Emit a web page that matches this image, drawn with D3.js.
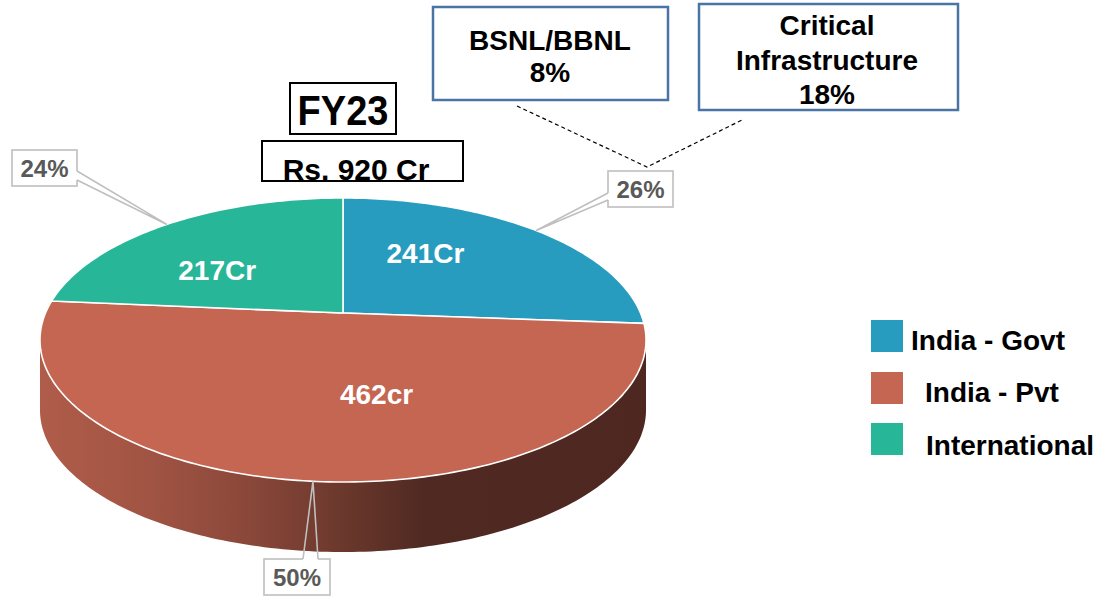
<!DOCTYPE html>
<html>
<head>
<meta charset="utf-8">
<script src="https://cdn.jsdelivr.net/npm/d3@7"></script>
<style>
  body { margin: 0; background: #fff; }
  text { font-family: "Liberation Sans", Arial, sans-serif; font-weight: bold; }
</style>
</head>
<body>
<div id="chart"></div>
<script>
// data
var segments = ["India - Govt", "India - Pvt", "International"];
var amounts = [241, 462, 217];
var amountLabels = ["241Cr", "462cr", "217Cr"];
var shareLabels = ["26%", "50%", "24%"];
var sliceColors = ["#279cbe", "#c46652", "#28b698"];
var govtSplitLabels = [["BSNL/BBNL", "8%"], ["Critical", "Infrastructure", "18%"]];
var chartTitle = "FY23";
var chartTotal = "Rs. 920 Cr";

var width = 1104, height = 600;

var svg = d3.select("#chart").append("svg")
    .attr("width", width)
    .attr("height", height);

// perspective of the tilted disc
var pie3d = {cx: 343, cy: 313, a: 297.5, b: 136.9, k: 0.19, depth: 70};
var xs = d3.scaleLinear().domain([-1, 1]).range([pie3d.cx - pie3d.a, pie3d.cx + pie3d.a]);
var ys = d3.scaleLinear().domain([-1, 1]).range([pie3d.cy + pie3d.b, pie3d.cy - pie3d.b]);

function proj(r, ang, dz) {
    var u = r * Math.sin(ang), v = r * Math.cos(ang), d = 1 + pie3d.k * v;
    return [xs(u / d), ys(v / d) + (dz || 0)];
}

function arcPoints(a0, a1, dz) {
    var n = Math.max(2, Math.ceil(Math.abs(a1 - a0) / (Math.PI / 180)));
    return d3.range(n + 1).map(function(i) { return proj(1, a0 + (a1 - a0) * i / n, dz); });
}

var arcs = d3.pie().sort(null).value(function(d) { return d; })(amounts);
var line = d3.line();

// side wall (only the front half is visible)
var sideR = Math.acos(-pie3d.k), sideL = 2 * Math.PI - sideR;
var defs = svg.append("defs");

arcs.forEach(function(a, i) {
    var s = Math.max(a.startAngle, sideR), e = Math.min(a.endAngle, sideL);
    if (e <= s) return;
    var c = d3.color(sliceColors[i]);
    var grad = defs.append("linearGradient")
        .attr("id", "side" + i)
        .attr("gradientUnits", "userSpaceOnUse")
        .attr("x1", xs(-1.02)).attr("x2", xs(1.02)).attr("y1", 0).attr("y2", 0);
    [[0, 0.3], [0.18, 0.55], [0.35, 1.0], [0.48, 1.6], [0.63, 2.5], [1, 2.6]].forEach(function(st) {
        grad.append("stop").attr("offset", st[0]).attr("stop-color", c.darker(st[1]).formatHex());
    });
    var pts = arcPoints(s, e, 0).concat(arcPoints(e, s, pie3d.depth));
    svg.append("path")
        .attr("d", line(pts) + "Z")
        .style("fill", "url(#side" + i + ")");
});

// top face
svg.selectAll(".slice")
    .data(arcs)
    .enter().append("path")
    .attr("class", "slice")
    .attr("d", function(d) {
        return line([proj(0, 0)].concat(arcPoints(d.startAngle, d.endAngle, 0))) + "Z";
    })
    .style("fill", function(d, i) { return sliceColors[i]; })
    .style("stroke", "#fff")
    .style("stroke-width", 1.6)
    .style("stroke-linejoin", "round");

// value labels inside slices
var labelNudge = [[-20, -6], [47, 16], [-32, 14]];
svg.selectAll(".amt")
    .data(arcs)
    .enter().append("text")
    .attr("class", "amt")
    .attr("x", function(d, i) { return proj(0.5, (d.startAngle + d.endAngle) / 2)[0] + labelNudge[i][0]; })
    .attr("y", function(d, i) { return proj(0.5, (d.startAngle + d.endAngle) / 2)[1] + labelNudge[i][1]; })
    .attr("text-anchor", "middle")
    .style("font-size", "28px")
    .style("fill", "#fff")
    .text(function(d, i) { return amountLabels[i]; });

// percentage callouts
var shareBoxes = [
    {x: 608, y: 171, w: 65, h: 36, side: "left", b0: 193, b1: 200},
    {x: 264, y: 559, w: 66, h: 36, side: "top", b0: 303, b1: 318},
    {x: 12, y: 150, w: 65, h: 36, side: "right", b0: 171, b1: 180}
];
var callouts = svg.append("g");
arcs.forEach(function(a, i) {
    var bx = shareBoxes[i];
    var tip = proj(1, (a.startAngle + a.endAngle) / 2);
    var p0, p1;
    if (bx.side == "left") { p0 = [bx.x, bx.b0]; p1 = [bx.x, bx.b1]; }
    else if (bx.side == "right") { p0 = [bx.x + bx.w, bx.b0]; p1 = [bx.x + bx.w, bx.b1]; }
    else { p0 = [bx.b0, bx.y]; p1 = [bx.b1, bx.y]; }
    callouts.append("rect")
        .attr("x", bx.x).attr("y", bx.y).attr("width", bx.w).attr("height", bx.h)
        .style("fill", "#fff").style("stroke", "#bfbfbf").style("stroke-width", 1.6);
    callouts.append("line")
        .attr("x1", p0[0]).attr("y1", p0[1]).attr("x2", p1[0]).attr("y2", p1[1])
        .style("stroke", "#fff").style("stroke-width", 2.5);
    callouts.append("path")
        .attr("d", line([p0, tip, p1]))
        .style("fill", "none").style("stroke", "#bfbfbf").style("stroke-width", 1.6);
    callouts.append("text")
        .attr("x", bx.x + bx.w / 2)
        .attr("y", bx.y + bx.h / 2 + 8.5)
        .attr("text-anchor", "middle")
        .style("font-size", "24px")
        .style("fill", "#595959")
        .text(shareLabels[i]);
});

// title boxes
svg.append("rect").attr("x", 290).attr("y", 83).attr("width", 106).attr("height", 51)
    .style("fill", "#fff").style("stroke", "#000").style("stroke-width", 2);
svg.append("text")
    .attr("transform", "translate(343,125) scale(1,1.1)")
    .attr("text-anchor", "middle")
    .style("font-size", "38px")
    .text(chartTitle);
svg.append("rect").attr("x", 262).attr("y", 141).attr("width", 201).attr("height", 40)
    .style("fill", "#fff").style("stroke", "#000").style("stroke-width", 2);
svg.append("text")
    .attr("x", 356).attr("y", 180)
    .attr("text-anchor", "middle")
    .style("font-size", "30px")
    .text(chartTotal);
svg.append("line").attr("x1", 262).attr("x2", 463).attr("y1", 181).attr("y2", 181)
    .style("stroke", "#000").style("stroke-width", 2);

// govt split boxes + dashed connectors
var splitBoxes = [
    {x: 433, y: 7, w: 235, h: 93, cx: 550, base: [50, 82]},
    {x: 699, y: 4, w: 259, h: 106, cx: 827, base: [35, 70, 104]}
];
svg.append("path")
    .attr("d", line([[517, 106], [647, 167], [742, 120]]))
    .style("fill", "none").style("stroke", "#000").style("stroke-width", 1.2)
    .style("stroke-dasharray", "4,3");
govtSplitLabels.forEach(function(lines, i) {
    var b = splitBoxes[i];
    svg.append("rect").attr("x", b.x).attr("y", b.y).attr("width", b.w).attr("height", b.h)
        .style("fill", "#fff").style("stroke", "#4a74a6").style("stroke-width", 2.5);
    lines.forEach(function(t, j) {
        svg.append("text")
            .attr("x", b.cx).attr("y", b.base[j])
            .attr("text-anchor", "middle")
            .style("font-size", "28px")
            .text(t);
    });
});

// legend
var legendRows = [{y: 320, tx: 911, ty: 350}, {y: 372, tx: 925, ty: 402}, {y: 423, tx: 926, ty: 455}];
var legend = svg.append("g");
segments.forEach(function(s, i) {
    legend.append("rect")
        .attr("x", 871).attr("y", legendRows[i].y).attr("width", 32).attr("height", 32)
        .style("fill", sliceColors[i]);
    legend.append("text")
        .attr("x", legendRows[i].tx).attr("y", legendRows[i].ty)
        .style("font-size", "28px")
        .text(s);
});
</script>
</body>
</html>
